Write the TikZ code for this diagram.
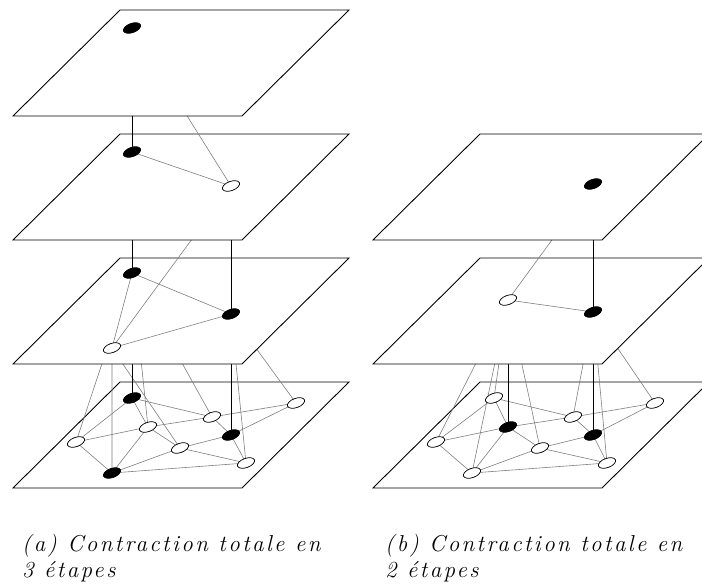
\documentclass[tikz,border=0pt]{standalone}
\usepackage{fontspec}
\newfontfamily\capfont[LetterSpace=10.5]{Latin Modern Roman}
\usetikzlibrary{shapes.geometric}
\newcommand\drawplane[2]{\draw[plane] (#1,#2) -- ++(229,0) -- ++(107,-106) -- ++(-229,0) -- cycle;}
\begin{document}
\begin{tikzpicture}[x=1pt,y=-1pt,
  plane/.style={draw=black, fill=white, line width=0.9pt, line join=miter},
  lnk/.style={draw=black!50, line width=0.6pt},
  tlnk/.style={draw=black, line width=1pt},
  vtx/.style={ellipse, minimum width=18pt, minimum height=9.2pt, inner sep=0pt, rotate=20, draw=black, line width=0.7pt},
  blk/.style={vtx, fill=black},
  wht/.style={vtx, fill=white},
  captxt/.style={anchor=base west, inner sep=0pt, font=\capfont\fontsize{23}{26}\selectfont\itshape}]
\useasboundingbox (0,0) rectangle (702,588);
% ---------- centres of the vertices ----------
% left column
\coordinate (R) at (132,28);
\coordinate (P) at (132,152);
\coordinate (Q) at (231,186);
\coordinate (A) at (132,273);
\coordinate (B) at (231,314);
\coordinate (C) at (112,348);
\coordinate (D) at (132,398);
\coordinate (E) at (296,403);
\coordinate (F) at (212,417);
\coordinate (G) at (148,427);
\coordinate (H) at (231,435);
\coordinate (I) at (76,442);
\coordinate (J) at (180,448);
\coordinate (K) at (246,463);
\coordinate (L) at (112,473);
% right column
\coordinate (S) at (593,184);
\coordinate (T) at (508,300);
\coordinate (U) at (593,312);
\coordinate (V) at (494,398);
\coordinate (W) at (655,403);
\coordinate (X) at (573,417);
\coordinate (Y) at (508,427);
\coordinate (Z) at (593,435);
\coordinate (a) at (436,442);
\coordinate (b) at (540,448);
\coordinate (c) at (607,463);
\coordinate (d) at (472,473);
% ---------- left column, bottom plane ----------
\drawplane{13}{488}
\draw[lnk] (D) -- (F) (D) -- (I) (D) -- (G) (I) -- (G) (I) -- (L) (G) -- (F)
  (G) -- (L) (G) -- (J) (F) -- (E) (F) -- (H) (L) -- (J) (L) -- (K)
  (J) -- (H) (J) -- (K) (H) -- (E) (H) -- (K);
\draw[lnk] (A) -- (I) (A) -- (G) (A) -- (F) (C) -- (L) (C) -- (J) (B) -- (K) (B) -- (E);
\draw[tlnk] (A) -- (D) (B) -- (H);
\node[blk] (nD) at (D) {};
\node[wht] (nE) at (E) {};
\node[wht] (nF) at (F) {};
\node[wht] (nG) at (G) {};
\node[blk] (nH) at (H) {};
\node[wht] (nI) at (I) {};
\node[wht] (nJ) at (J) {};
\node[wht] (nK) at (K) {};
\node[blk] (nL) at (L) {};
% ---------- left column, plane 3 ----------
\drawplane{13}{364}
\draw[lnk] (A) -- (B) (A) -- (C) (B) -- (C);
\draw[lnk] (Q) -- (C);
\draw[tlnk] (P) -- (A) (Q) -- (B);
\node[blk] (nA) at (A) {};
\node[blk] (nB) at (B) {};
\node[wht] (nC) at (C) {};
% ---------- left column, plane 2 ----------
\drawplane{13}{240}
\draw[lnk] (P) -- (Q) (R) -- (Q);
\draw[tlnk] (R) -- (P);
\node[blk] (nP) at (P) {};
\node[wht] (nQ) at (Q) {};
% ---------- left column, top plane ----------
\drawplane{13}{116}
\node[blk] (nR) at (R) {};
% ---------- right column, bottom plane ----------
\drawplane{373}{488}
\draw[lnk] (V) -- (X) (V) -- (a) (V) -- (Y) (a) -- (Y) (a) -- (d) (Y) -- (X)
  (Y) -- (d) (Y) -- (b) (X) -- (W) (X) -- (Z) (d) -- (b) (d) -- (c)
  (b) -- (Z) (b) -- (c) (Z) -- (W) (Z) -- (c);
\draw[lnk] (T) -- (a) (T) -- (d) (T) -- (V) (T) -- (b) (U) -- (X) (U) -- (c) (U) -- (W);
\draw[tlnk] (T) -- (Y) (U) -- (Z);
\node[wht] (nV) at (V) {};
\node[wht] (nW) at (W) {};
\node[wht] (nX) at (X) {};
\node[blk] (nY) at (Y) {};
\node[blk] (nZ) at (Z) {};
\node[wht] (na) at (a) {};
\node[wht] (nb) at (b) {};
\node[wht] (nc) at (c) {};
\node[wht] (nd) at (d) {};
% ---------- right column, middle plane ----------
\drawplane{373}{364}
\draw[lnk] (T) -- (U) (S) -- (T);
\draw[tlnk] (S) -- (U);
\node[wht] (nT) at (T) {};
\node[blk] (nU) at (U) {};
% ---------- right column, top plane ----------
\drawplane{373}{240}
\node[blk] (nS) at (S) {};
% ---------- captions ----------
\node[captxt] (ca1) at (22,551) {(a) Contraction totale en};
\node[captxt] (ca2) at (22,577) {3 étapes};
\node[captxt] (cb1) at (385,551) {(b) Contraction totale en};
\node[captxt] (cb2) at (385,577) {2 étapes};
\end{tikzpicture}
\end{document}
